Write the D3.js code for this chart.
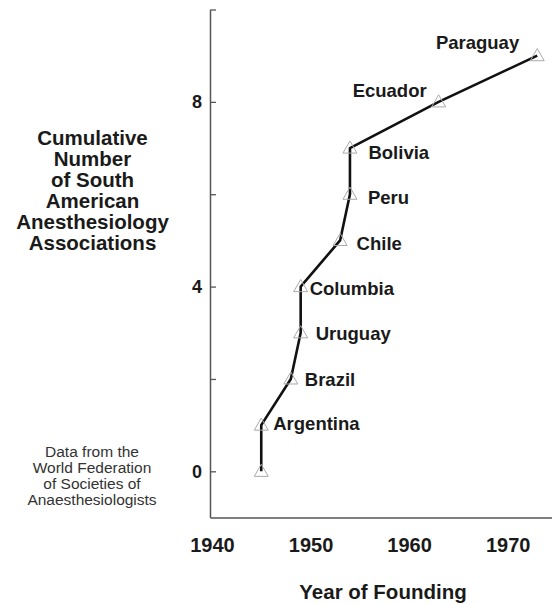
<!DOCTYPE html>
<html>
<head>
<meta charset="utf-8">
<script src="https://cdn.jsdelivr.net/npm/d3@7"></script>
<style>
  html, body { margin: 0; padding: 0; background: #fff; }
  svg { display: block; font-family: "Liberation Sans", Arial, Helvetica, sans-serif; }
</style>
</head>
<body>
<svg id="chart" width="552" height="605"></svg>
<script>
// ---- data ----
const countries = ["", "Argentina", "Brazil", "Uruguay", "Columbia", "Chile", "Peru", "Bolivia", "Ecuador", "Paraguay"];
const years     = [1945, 1945, 1948, 1949, 1949, 1953, 1954, 1954, 1963, 1973];
const counts    = [0, 1, 2, 3, 4, 5, 6, 7, 8, 9];
const xTicks = [1940, 1950, 1960, 1970];
const yTickMarks = [0, 2, 4, 6, 8, 10];
const yTickLabels = [0, 4, 8];
const yTitleLines = ["Cumulative", "Number", "of South", "American", "Anesthesiology", "Associations"];
const noteLines = ["Data from the", "World Federation", "of Societies of", "Anaesthesiologists"];
const xTitle = "Year of Founding";

// label placement (layout only): [dx, dy, anchor]
const labelPlace = [
  null,
  [12, 4.5, "start"],
  [14, 7.5, "start"],
  [15, 7, "start"],
  [9, 8, "start"],
  [16.5, 10, "start"],
  [18, 9.5, "start"],
  [18.5, 11, "start"],
  [-12, -4.5, "end"],
  [-18, -7, "end"]
];

const svg = d3.select("#chart");
const x = d3.scaleLinear().domain([1939.8, 1974.5]).range([210, 552]);
const y = d3.scaleLinear().domain([-1, 10]).range([517.5, 9.5]);

// y axis
const yAxis = svg.append("g").attr("transform", `translate(${x(1939.8)},0)`)
  .call(d3.axisLeft(y).tickValues(yTickMarks).tickSizeInner(-6).tickSizeOuter(0).tickPadding(8)
    .tickFormat(d => yTickLabels.includes(d) ? d : ""));
yAxis.select(".domain").attr("stroke", "#555").attr("stroke-width", 1.5);
yAxis.selectAll(".tick line").attr("stroke", "#555").attr("stroke-width", 1.3);
yAxis.selectAll(".tick text").attr("font-size", 18).attr("font-weight", "bold").attr("fill", "#1a1a1a")
  .attr("font-family", '"Liberation Sans", Arial, sans-serif');

// x axis
const xAxis = svg.append("g").attr("transform", `translate(0,${y(-1)})`)
  .call(d3.axisBottom(x).tickValues(xTicks).tickSize(0).tickPadding(20).tickFormat(d3.format("d")));
xAxis.select(".domain").attr("stroke", "#555").attr("stroke-width", 1.5);
xAxis.selectAll(".tick text").attr("font-size", 20).attr("font-weight", "bold").attr("fill", "#1a1a1a")
  .attr("font-family", '"Liberation Sans", Arial, sans-serif');

// x title
svg.append("text").attr("x", 383).attr("y", 599).attr("text-anchor", "middle")
  .attr("font-size", 20.5).attr("font-weight", "bold").attr("fill", "#1a1a1a").text(xTitle);

// y title
svg.append("g").selectAll("text").data(yTitleLines).join("text")
  .attr("x", 92.5).attr("y", (d, i) => 145 + i * 21).attr("text-anchor", "middle")
  .attr("font-size", 20.5).attr("font-weight", "bold").attr("fill", "#1a1a1a").text(d => d);

// note
svg.append("g").selectAll("text").data(noteLines).join("text")
  .attr("x", 92).attr("y", (d, i) => 457 + i * 16).attr("text-anchor", "middle")
  .attr("font-size", 15.5).attr("fill", "#333").text(d => d);

// line
const pts = years.map((yr, i) => ({ year: yr, count: counts[i], name: countries[i], i }));
svg.append("path").datum(pts)
  .attr("d", d3.line().x(d => x(d.year)).y(d => y(d.count)))
  .attr("fill", "none").attr("stroke", "#111").attr("stroke-width", 2.6).attr("stroke-linejoin", "round");

// markers
svg.append("g").selectAll("path").data(pts).join("path")
  .attr("transform", d => `translate(${x(d.year)},${y(d.count) + 1})`)
  .attr("d", d3.symbol().type(d3.symbolTriangle).size(85))
  .attr("fill", "none").attr("stroke", "#aaa").attr("stroke-width", 1);

// labels
svg.append("g").selectAll("text").data(pts.filter(d => d.name)).join("text")
  .attr("x", d => x(d.year) + labelPlace[d.i][0])
  .attr("y", d => y(d.count) + labelPlace[d.i][1])
  .attr("text-anchor", d => labelPlace[d.i][2])
  .attr("font-size", 18.5).attr("font-weight", "bold").attr("fill", "#1a1a1a")
  .text(d => d.name);
</script>
</body>
</html>
